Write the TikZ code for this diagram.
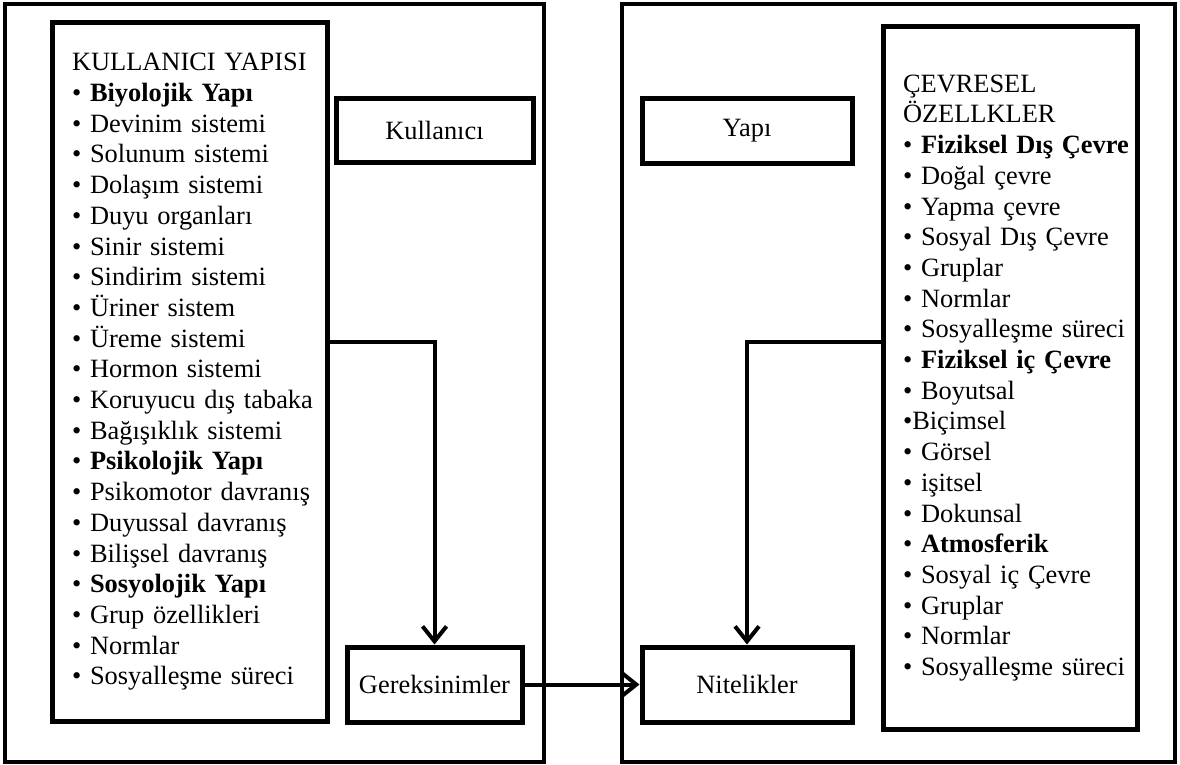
\documentclass[tikz,border=0pt]{standalone}
\usepackage{fontspec}
\setmainfont{Liberation Serif}
\usetikzlibrary{positioning,arrows.meta}

\newcommand{\madde}[1]{\mbox{•\ #1}}

\begin{document}
\begin{tikzpicture}[x=1pt, y=-1pt,
    font=\fontsize{26.4}{30.7}\selectfont,
    cerceve/.style={draw, line width=4pt, inner sep=0pt},
    kutu/.style={draw, line width=5pt, inner sep=0pt},
    liste/.style={draw, line width=5pt, align=left, inner xsep=20pt, inner ysep=0pt},
    ok/.style={line width=4pt, -{Straight Barb[length=15pt, width=24pt]}}]
  \useasboundingbox (0,0) rectangle (1180,765);
  % dis cerceveler
  \node[cerceve, minimum width=539pt, minimum height=758pt] (sol) at (274.5,383) {};
  \node[cerceve, minimum width=553pt, minimum height=758pt] (sag) at (898.5,383) {};
  % listeler
  \node[liste, text width=235pt, minimum height=698pt] (klist) at (189.5,372)
    {KULLANICI YAPISI\\ \madde{\textbf{Biyolojik Yapı}}\\ \madde{Devinim sistemi}\\
     \madde{Solunum sistemi}\\ \madde{Dolaşım sistemi}\\ \madde{Duyu organları}\\
     \madde{Sinir sistemi}\\ \madde{Sindirim sistemi}\\ \madde{Üriner sistem}\\
     \madde{Üreme sistemi}\\ \madde{Hormon sistemi}\\ \madde{Koruyucu dış tabaka}\\
     \madde{Bağışıklık sistemi}\\ \madde{\textbf{Psikolojik Yapı}}\\
     \madde{Psikomotor davranış}\\ \madde{Duyussal davranış}\\ \madde{Bilişsel davranış}\\
     \madde{\textbf{Sosyolojik Yapı}}\\ \madde{Grup özellikleri}\\ \madde{Normlar}\\
     \madde{Sosyalleşme süreci}};
  \node[liste, text width=214pt, minimum height=702pt] (clist) at (1010,378)
    {ÇEVRESEL\\ ÖZELLKLER\\ \madde{\textbf{Fiziksel Dış Çevre}}\\ \madde{Doğal çevre}\\
     \madde{Yapma çevre}\\ \madde{Sosyal Dış Çevre}\\ \madde{Gruplar}\\ \madde{Normlar}\\
     \madde{Sosyalleşme süreci}\\ \madde{\textbf{Fiziksel iç Çevre}}\\ \madde{Boyutsal}\\
     \mbox{•Biçimsel}\\ \madde{Görsel}\\ \madde{işitsel}\\ \madde{Dokunsal}\\
     \madde{\textbf{Atmosferik}}\\ \madde{Sosyal iç Çevre}\\ \madde{Gruplar}\\
     \madde{Normlar}\\ \madde{Sosyalleşme süreci}};
  % kutular
  \node[kutu, minimum width=197pt, minimum height=63pt] (kullanici) at (434.5,130.5) {Kullanıcı};
  \node[kutu, minimum width=210pt, minimum height=64pt] (yapi) at (747,131) {Yapı};
  \node[kutu, minimum width=175pt, minimum height=75pt] (gerek) at (434.5,684.5) {Gereksinimler};
  \node[kutu, minimum width=210pt, minimum height=75pt] (nitel) at (747,684.5) {Nitelikler};
  % oklar
  \draw[ok] ([yshift=30pt]klist.east) -| (gerek.north);
  \draw[ok] ([yshift=36pt]clist.west) -| (nitel.north);
  \draw[ok] (gerek) -- (nitel);
\end{tikzpicture}
\end{document}
